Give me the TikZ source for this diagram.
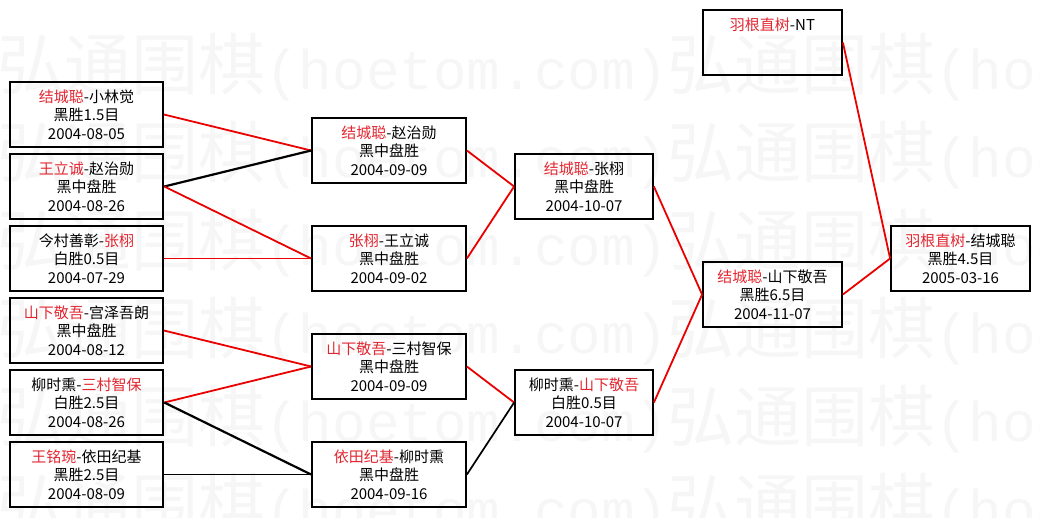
\documentclass[tikz,border=0pt]{standalone}
\usepackage{fontspec}
\setmainfont{Noto Sans CJK SC}
\newfontfamily\wmcjk{Noto Sans CJK SC}
\newfontfamily\wmlatin{Liberation Mono}
\usepackage{xcolor}
\usetikzlibrary{positioning}
\definecolor{namered}{RGB}{226,38,48}
\definecolor{linkred}{RGB}{235,0,0}
\definecolor{wmgray}{RGB}{246,246,246}
\newcommand{\redname}[1]{\textcolor{namered}{#1}}

\begin{document}
\begin{tikzpicture}[x=1pt,y=-1pt,
  game/.style={draw,line width=1.8pt,align=center,inner sep=0pt,minimum height=65pt,font=\fontsize{15}{18.5}\selectfont},
  heavy/.style={line width=2.6pt},
  round1/.style={game,minimum width=153pt},
  round2/.style={game,minimum width=154pt},
  round3/.style={game,minimum width=138pt},
  round4/.style={game,minimum width=139pt},
  wmtext/.style={anchor=west,inner sep=0pt,text=wmgray},
  redlink/.style={draw=linkred,line width=1.8pt},
  blacklink/.style={draw=black,line width=2.2pt}]
\useasboundingbox (0,0) rectangle (1040,517);

\foreach \r in {0,...,5} {
  \foreach \c in {0,1} {
    \node[wmtext] (wm\r\c) at (-3+670*\c,67+88*\r)
      {{\wmcjk\fontsize{67}{67}\selectfont 弘通围棋}{\wmlatin\fontsize{56}{56}\selectfont (hoetom.com)}};
  }
}

\node[round1] (b1) at (86.5,114.5) {\redname{结城聪}-小林觉\\黑胜1.5目\\2004-08-05};
\node[round1,heavy] (b2) at (86.5,186.5) {\redname{王立诚}-赵治勋\\黑中盘胜\\2004-08-26};
\node[round1] (b3) at (86.5,258.5) {今村善彰-\redname{张栩}\\白胜0.5目\\2004-07-29};
\node[round1] (b4) at (86.5,330.5) {\redname{山下敬吾}-宫泽吾朗\\黑中盘胜\\2004-08-12};
\node[round1,heavy] (b5) at (86.5,402.5) {柳时熏-\redname{三村智保}\\白胜2.5目\\2004-08-26};
\node[round1] (b6) at (86.5,474.5) {\redname{王铭琬}-依田纪基\\黑胜2.5目\\2004-08-09};

\node[round2] (c1) at (389,150.5) {\redname{结城聪}-赵治勋\\黑中盘胜\\2004-09-09};
\node[round2] (c2) at (389,258.5) {\redname{张栩}-王立诚\\黑中盘胜\\2004-09-02};
\node[round2] (c3) at (389,366.5) {\redname{山下敬吾}-三村智保\\黑中盘胜\\2004-09-09};
\node[round2] (c4) at (389,474.5) {\redname{依田纪基}-柳时熏\\黑中盘胜\\2004-09-16};

\node[round3] (d1) at (584,186.5) {\redname{结城聪}-张栩\\黑中盘胜\\2004-10-07};
\node[round3] (d2) at (584,402.5) {柳时熏-\redname{山下敬吾}\\白胜0.5目\\2004-10-07};

\node[round4] (e1) at (772.5,294.5) {\redname{结城聪}-山下敬吾\\黑胜6.5目\\2004-11-07};
\node[round4] (seed) at (772.5,42.5) {\redname{羽根直树}-NT\\~\\~};
\node[round4] (final) at (960.5,258.5) {\redname{羽根直树}-结城聪\\黑胜4.5目\\2005-03-16};

\draw[redlink] (b1.east) -- (c1.west);
\draw[blacklink] (b2.east) -- (c1.west);
\draw[redlink] (b2.east) -- (c2.west);
\draw[redlink] (b3.east) -- (c2.west);
\draw[redlink] (b4.east) -- (c3.west);
\draw[redlink] (b5.east) -- (c3.west);
\draw[blacklink] (b5.east) -- (c4.west);
\draw[line width=1.2pt] (b6.east) -- (c4.west);
\draw[redlink] (c1.east) -- (d1.west);
\draw[redlink] (c2.east) -- (d1.west);
\draw[redlink] (c3.east) -- (d2.west);
\draw[blacklink,line width=1.7pt] (c4.east) -- (d2.west);
\draw[redlink] (d1.east) -- (e1.west);
\draw[redlink] (d2.east) -- (e1.west);
\draw[redlink] (e1.east) -- (final.west);
\draw[redlink] (seed.east) -- (final.west);
\end{tikzpicture}
\end{document}
